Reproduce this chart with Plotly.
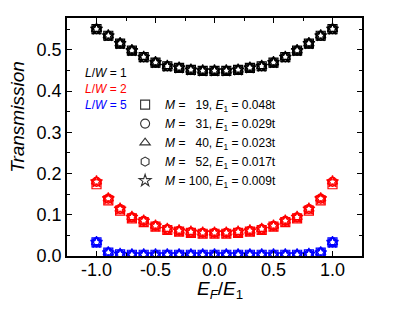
import plotly.graph_objects as go

EF = [-1.0, -0.9, -0.8, -0.7, -0.6, -0.5, -0.4, -0.3, -0.2, -0.1, 0.0,
      0.1, 0.2, 0.3, 0.4, 0.5, 0.6, 0.7, 0.8, 0.9, 1.0]

T_LW1 = [0.550, 0.534, 0.515, 0.498, 0.482, 0.469, 0.460, 0.456, 0.451, 0.449, 0.449,
         0.449, 0.451, 0.456, 0.460, 0.469, 0.482, 0.498, 0.515, 0.534, 0.550]
T_LW2 = [0.180, 0.139, 0.114, 0.094, 0.085, 0.073, 0.065, 0.061, 0.058, 0.056, 0.056,
         0.056, 0.058, 0.061, 0.065, 0.073, 0.085, 0.094, 0.114, 0.139, 0.180]
T_LW2_M19 = [0.174, 0.135, 0.110, 0.091, 0.082, 0.071, 0.063, 0.059, 0.056, 0.054, 0.054,
             0.054, 0.056, 0.059, 0.063, 0.071, 0.082, 0.091, 0.110, 0.135, 0.174]
T_LW5 = [0.033, 0.008, 0.004, 0.003, 0.003, 0.003, 0.003, 0.003, 0.003, 0.003, 0.003,
         0.003, 0.003, 0.003, 0.003, 0.003, 0.003, 0.003, 0.004, 0.008, 0.033]

M_VALUES = ["19", "31", "40", "52", "100"]
E1_VALUES = ["0.048t", "0.029t", "0.023t", "0.017t", "0.009t"]
SYMBOLS = ["square-open", "circle-open", "triangle-up-open", "hexagon-open", "star-open"]
LW_LABELS = ["1", "2", "5"]
LW_COLORS = ["#000000", "#FF0000", "#0000FF"]

FONT = "Liberation Sans, Arial, sans-serif"

fig = go.Figure()

series = [T_LW1, T_LW2, T_LW5]
for li, (vals, col) in enumerate(zip(series, LW_COLORS)):
    for si, sym in enumerate(SYMBOLS):
        y = vals
        if li == 1 and si == 0:
            y = T_LW2_M19
        fig.add_trace(go.Scatter(
            x=EF, y=y, mode="markers", showlegend=False,
            marker=dict(symbol=sym, size=9, color=col, line=dict(width=1.2, color=col)),
        ))

# legend entries for M
for m, e, sym in zip(M_VALUES, E1_VALUES, SYMBOLS):
    pad = "\u00a0" * (2 * (3 - len(m))) if len(m) < 3 else ""
    fig.add_trace(go.Scatter(
        x=[None], y=[None], mode="markers",
        name=f"<i>M</i> =\u00a0{pad}{m}, <i>E</i><sub>1</sub> = {e}",
        marker=dict(symbol=sym, size=9, color="#333333", line=dict(width=1.1, color="#333333")),
    ))

for i, (lab, col) in enumerate(zip(LW_LABELS, LW_COLORS)):
    fig.add_annotation(
        xref="paper", yref="paper", x=0.054, y=[0.769, 0.702, 0.634][i],
        xanchor="left", yanchor="middle", showarrow=False,
        text=f"<i>L</i>/<i>W</i> = {lab}",
        font=dict(family=FONT, size=12, color=col),
    )

fig.add_annotation(
    xref="paper", yref="paper", x=-0.166, y=0.585, xanchor="center", yanchor="middle",
    showarrow=False, textangle=-90, text="<i>Transmission</i>",
    font=dict(family=FONT, size=19, color="#000000"),
)
fig.add_annotation(
    xref="paper", yref="paper", x=0.52, y=-0.084, xanchor="center", yanchor="top",
    showarrow=False, text="<i>E</i><sub><i>F</i></sub>/<i>E</i><sub>1</sub>",
    font=dict(family=FONT, size=19, color="#000000"),
)

axis_common = dict(
    showline=True, linecolor="#000000", linewidth=1.5, mirror="ticks",
    ticks="inside", ticklen=5, tickwidth=1.2, tickcolor="#000000",
    showgrid=False, zeroline=False,
    tickfont=dict(family=FONT, size=18, color="#000000"),
)

fig.update_layout(
    width=394, height=311,
    margin=dict(l=67, r=32, t=18, b=55),
    paper_bgcolor="white", plot_bgcolor="white",
    xaxis=dict(range=[-1.25, 1.25], tickvals=[-1.0, -0.5, 0.0, 0.5, 1.0],
               ticktext=["-1.0", "-0.5", "0.0", "0.5", "1.0"],
               ticklabelstandoff=-3,
               minor=dict(ticks="inside", ticklen=3, tickcolor="#000000", dtick=0.25, tick0=0),
               **axis_common),
    yaxis=dict(range=[0, 0.577], tickvals=[0, 0.1, 0.2, 0.3, 0.4, 0.5],
               ticktext=["0.0", "0.1", "0.2", "0.3", "0.4", "0.5"],
               minor=dict(ticks="inside", ticklen=3, tickcolor="#000000", dtick=0.05, tick0=0),
               **axis_common),
    legend=dict(x=0.197, y=0.697, xanchor="left", yanchor="top",
                bgcolor="rgba(0,0,0,0)", font=dict(family=FONT, size=12, color="#000000"),
                itemsizing="trace", tracegroupgap=0),
    showlegend=True,
)

fig.write_html("out.html", config={"displayModeBar": False},
               post_script="document.body.style.margin='0';")
